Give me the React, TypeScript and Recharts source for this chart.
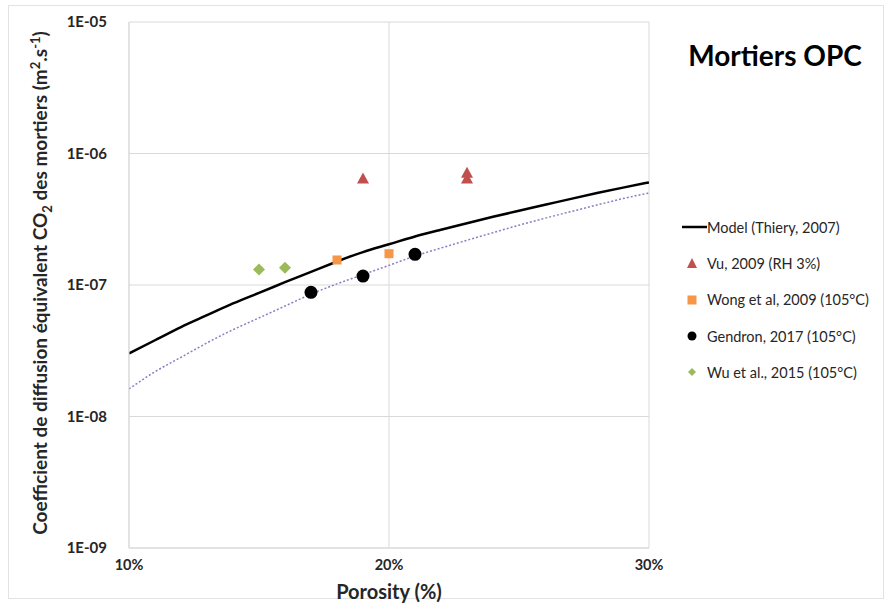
import React from "react";
import {
  ComposedChart,
  Line,
  Scatter,
  XAxis,
  YAxis,
  CartesianGrid,
  Label,
} from "recharts";

// porosity in %, diffusion coefficient in m2/s
const modelPorosity = [10, 11, 12, 13, 14, 15, 16, 17, 18, 19, 20, 21, 22, 23, 24, 25, 26, 27, 28, 29, 30];
const modelD = [
  3.02e-8, 3.8e-8, 4.79e-8, 5.89e-8, 7.24e-8, 8.71e-8, 1.05e-7, 1.26e-7, 1.51e-7, 1.78e-7, 2.04e-7,
  2.34e-7, 2.63e-7, 2.95e-7, 3.3e-7, 3.67e-7, 4.07e-7, 4.52e-7, 5.0e-7, 5.5e-7, 6.03e-7,
];
const fitD = [
  1.62e-8, 2.19e-8, 2.82e-8, 3.63e-8, 4.57e-8, 5.62e-8, 6.92e-8, 8.51e-8, 1.02e-7, 1.2e-7, 1.41e-7,
  1.66e-7, 1.91e-7, 2.19e-7, 2.5e-7, 2.85e-7, 3.22e-7, 3.62e-7, 4.06e-7, 4.54e-7, 5.01e-7,
];

const vuPorosity = [19, 23, 23];
const vuD = [6.45e-7, 7.15e-7, 6.45e-7];
const wongPorosity = [18, 20];
const wongD = [1.55e-7, 1.73e-7];
const gendronPorosity = [17, 19, 21];
const gendronD = [8.8e-8, 1.17e-7, 1.71e-7];
const wuPorosity = [15, 16];
const wuD = [1.31e-7, 1.35e-7];

const xTicks = [10, 20, 30];
const yTicks = [1e-9, 1e-8, 1e-7, 1e-6, 1e-5];

const zip = (xs: number[], ys: number[]) => xs.map((x, i) => ({ x, y: ys[i] }));

const FONT = "Lato, 'Open Sans', sans-serif";
const TEXT = "#262626";

const fmtY = (v: number) => {
  const e = Math.round(Math.log10(v));
  return "1E-" + String(-e).padStart(2, "0");
};

const Triangle = (p: any) => (
  <polygon
    points={`${p.cx},${p.cy - 6} ${p.cx + 6},${p.cy + 5} ${p.cx - 6},${p.cy + 5}`}
    fill="#C0504D"
  />
);
const Square = (p: any) => <rect x={p.cx - 4.5} y={p.cy - 4.5} width={9} height={9} fill="#F79646" />;
const Dot = (p: any) => <circle cx={p.cx} cy={p.cy} r={6.5} fill="#000" />;
const Diamond = (p: any) => (
  <polygon
    points={`${p.cx},${p.cy - 6} ${p.cx + 6},${p.cy} ${p.cx},${p.cy + 6} ${p.cx - 6},${p.cy}`}
    fill="#9BBB59"
  />
);

const renderYLabel = () => (
  <text
    x={47}
    y={283}
    transform="rotate(-90, 47, 283)"
    textAnchor="middle"
    fontFamily={FONT}
    fontWeight={700}
    fontSize={19}
    fill={TEXT}
  >
    Coefficient de diffusion équivalent CO
    <tspan dy={5} fontSize={13}>2</tspan>
    <tspan dy={-5}> des mortiers (m</tspan>
    <tspan dy={-7} fontSize={13}>2</tspan>
    <tspan dy={7}>.s</tspan>
    <tspan dy={-7} fontSize={13}>-1</tspan>
    <tspan dy={7}>)</tspan>
  </text>
);

const renderXLabel = () => (
  <text x={389} y={599} textAnchor="middle" fontFamily={FONT} fontWeight={700} fontSize={20} fill={TEXT}>
    Porosity (%)
  </text>
);

const legendItems = [
  { name: "Model (Thiery, 2007)", kind: "line" },
  { name: "Vu, 2009 (RH 3%)", kind: "tri" },
  { name: "Wong et al, 2009 (105°C)", kind: "sq" },
  { name: "Gendron, 2017 (105°C)", kind: "dot" },
  { name: "Wu et al., 2015 (105°C)", kind: "dia" },
];

function LegendMark({ kind }: { kind: string }) {
  return (
    <svg width={25} height={14} style={{ flex: "none" }}>
      {kind === "line" && <line x1={0} y1={7} x2={25} y2={7} stroke="#000" strokeWidth={2.5} />}
      {kind === "tri" && <polygon points="10,2 15,12 5,12" fill="#C0504D" />}
      {kind === "sq" && <rect x={5.5} y={2.5} width={9} height={9} fill="#F79646" />}
      {kind === "dot" && <circle cx={10} cy={7} r={4.5} fill="#000" />}
      {kind === "dia" && <polygon points="10,3 14,7 10,11 6,7" fill="#9BBB59" />}
    </svg>
  );
}

export default function App() {
  return (
    <div style={{ position: "absolute", left: 0, top: 0, width: 886, height: 607, background: "#fff" }}>
      <div
        style={{
          position: "absolute",
          left: 8,
          top: 5,
          width: 876,
          height: 594,
          border: "1px solid #E3E3E3",
          boxSizing: "border-box",
        }}
      />
      <ComposedChart
        width={886}
        height={607}
        margin={{ top: 22, right: 237, bottom: 0, left: 0 }}
        style={{ position: "absolute", left: 0, top: 0 }}
      >
        <CartesianGrid stroke="#D9D9D9" strokeWidth={1} />
        <XAxis
          dataKey="x"
          type="number"
          domain={[10, 30]}
          ticks={xTicks}
          tickFormatter={(v: number) => `${v}%`}
          height={59}
          tickLine={false}
          tickSize={0}
          tickMargin={12}
          axisLine={{ stroke: "#D9D9D9" }}
          tick={{ fontFamily: FONT, fontWeight: 700, fontSize: 14.5, fill: TEXT }}
          allowDataOverflow
        >
          <Label content={renderXLabel} />
        </XAxis>
        <YAxis
          dataKey="y"
          type="number"
          scale="log"
          domain={[1e-9, 1e-5]}
          ticks={yTicks}
          tickFormatter={fmtY}
          width={129}
          tickLine={false}
          tickSize={0}
          tickMargin={22}
          axisLine={{ stroke: "#D9D9D9" }}
          tick={{ fontFamily: FONT, fontWeight: 700, fontSize: 15, fill: TEXT }}
          allowDataOverflow
        >
          <Label content={renderYLabel} />
        </YAxis>
        <Line
          data={zip(modelPorosity, fitD)}
          dataKey="y"
          type="natural"
          stroke="#8E7CC3"
          strokeWidth={1.5}
          strokeDasharray="2 2"
          dot={false}
          activeDot={false}
          isAnimationActive={false}
        />
        <Line
          data={zip(modelPorosity, modelD)}
          dataKey="y"
          type="natural"
          stroke="#000"
          strokeWidth={2.5}
          dot={false}
          activeDot={false}
          isAnimationActive={false}
        />
        <Scatter data={zip(vuPorosity, vuD)} dataKey="y" shape={Triangle} isAnimationActive={false} />
        <Scatter data={zip(wongPorosity, wongD)} dataKey="y" shape={Square} isAnimationActive={false} />
        <Scatter data={zip(gendronPorosity, gendronD)} dataKey="y" shape={Dot} isAnimationActive={false} />
        <Scatter data={zip(wuPorosity, wuD)} dataKey="y" shape={Diamond} isAnimationActive={false} />
      </ComposedChart>
      <div
        style={{
          position: "absolute",
          left: 668,
          top: 38,
          width: 214,
          textAlign: "center",
          fontFamily: FONT,
          fontWeight: 700,
          fontSize: 28,
          color: "#000",
        }}
      >
        Mortiers OPC
      </div>
      <div style={{ position: "absolute", left: 682, top: 209, fontFamily: FONT, fontSize: 14.5, color: TEXT }}>
        {legendItems.map((it) => (
          <div key={it.name} style={{ display: "flex", alignItems: "center", height: 36.3 }}>
            <LegendMark kind={it.kind} />
            <span>{it.name}</span>
          </div>
        ))}
      </div>
    </div>
  );
}
